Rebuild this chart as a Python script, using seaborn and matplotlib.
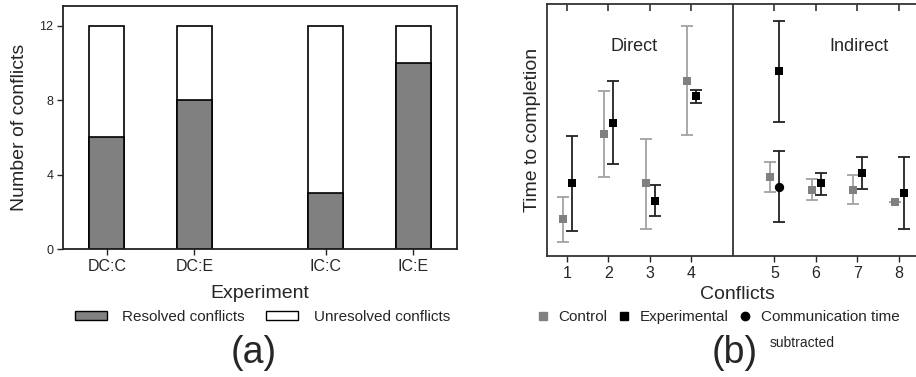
import matplotlib
matplotlib.use("Agg")
import matplotlib.pyplot as plt
import matplotlib.patches as mpatches
from matplotlib.lines import Line2D
import seaborn as sns


## Data: panel (a), conflicts resolved per experiment

experiments = ['DC:C', 'DC:E', 'IC:C', 'IC:E']
resolved = [6, 8, 3, 10]
total_conflicts = [12, 12, 12, 12]

## Data: panel (b), time to completion (arbitrary units, no scale shown)

conflicts = [1, 2, 3, 4, 5, 6, 7, 8]
control_time = [37, 122, 73, 175, 79, 66, 66, 54]
control_low = [14, 79, 27, 121, 64, 56, 52, 54]
control_high = [59, 165, 117, 230, 94, 77, 81, 54]
exp_time = [73, 133, 55, 160, 185, 73, 83, 63]
exp_low = [25, 92, 40, 153, 134, 61, 67, 27]
exp_high = [120, 175, 71, 166, 235, 83, 99, 99]
comm_conflict = [5]
comm_time = [69]
comm_low = [34]
comm_high = [105]

GRAY = '#808080'
GRAY_ERR = '#a3a3a3'
DARK = '#222222'

sns.set_style('white')
plt.rcParams['font.family'] = ['Liberation Sans', 'DejaVu Sans']

fig = plt.figure(figsize=(9.16, 3.77), dpi=100)


## Panel (a): stacked bars

ax1 = fig.add_axes([0.0688, 0.3395, 0.430, 0.6446])
# direct and indirect groups separated by a gap
bar_pos = [0, 1, 2.5, 3.5]

sns.barplot(x=bar_pos, y=total_conflicts, native_scale=True, width=0.4,
            color='white', saturation=1, edgecolor='black', linewidth=1.2,
            errorbar=None, ax=ax1)
sns.barplot(x=bar_pos, y=resolved, native_scale=True, width=0.4,
            color=GRAY, saturation=1, edgecolor='black', linewidth=1.2,
            errorbar=None, ax=ax1)

ax1.set_xlim(-0.5, 4.0)
ax1.set_ylim(0, 13.07)
ax1.set_xticks(bar_pos)
ax1.set_xticklabels(experiments, fontsize=11.5)
ax1.set_yticks([0, 4, 8, 12])
ax1.tick_params(axis='y', labelsize=9, length=4, width=1, direction='out', left=True, pad=3)
ax1.tick_params(axis='x', length=4, width=1, direction='out', bottom=True, pad=3)
ax1.set_xlabel('Experiment', fontsize=14, labelpad=8)
ax1.set_ylabel('Number of conflicts', fontsize=14, labelpad=8)
for sp in ax1.spines.values():
    sp.set_color('#222222')
    sp.set_linewidth(1.3)


## Panel (b): time to completion with error bars

ax2 = fig.add_axes([0.597, 0.321, 0.416, 0.668])
# conflicts 5-8 are shifted one slot right to leave room for the divider
xpos = [c + (1 if c > 4 else 0) for c in conflicts]
ctrl_x = [x - 0.1 for x in xpos]
exp_x = [x + 0.12 for x in xpos]
comm_x = [c + 1 + 0.12 for c in comm_conflict]

ax2.errorbar(ctrl_x, control_time,
             yerr=[[m - lo for m, lo in zip(control_time, control_low)],
                   [hi - m for m, hi in zip(control_time, control_high)]],
             fmt='none', ecolor=GRAY_ERR, elinewidth=1.3, capsize=4, capthick=1.3, zorder=2)
ax2.errorbar(exp_x, exp_time,
             yerr=[[m - lo for m, lo in zip(exp_time, exp_low)],
                   [hi - m for m, hi in zip(exp_time, exp_high)]],
             fmt='none', ecolor=DARK, elinewidth=1.3, capsize=4, capthick=1.3, zorder=2)
ax2.errorbar(comm_x, comm_time,
             yerr=[[m - lo for m, lo in zip(comm_time, comm_low)],
                   [hi - m for m, hi in zip(comm_time, comm_high)]],
             fmt='none', ecolor=DARK, elinewidth=1.3, capsize=4, capthick=1.3, zorder=2)

sns.scatterplot(x=ctrl_x, y=control_time, marker='s', s=40, color=GRAY,
                edgecolor=GRAY, linewidth=0, ax=ax2, zorder=3)
sns.scatterplot(x=exp_x, y=exp_time, marker='s', s=40, color='black',
                edgecolor='black', linewidth=0, ax=ax2, zorder=3)
sns.scatterplot(x=comm_x, y=comm_time, marker='o', s=45, color='black',
                edgecolor='black', linewidth=0, ax=ax2, zorder=3)

ax2.axvline(5, color='#333333', lw=1.3)
ax2.text(2.61, 210, 'Direct', fontsize=13, ha='center', va='center')
ax2.text(8.04, 210, 'Indirect', fontsize=13, ha='center', va='center')

ax2.set_xlim(0.52, 9.7)
ax2.set_ylim(0, 252)
ax2.set_xticks(xpos)
ax2.set_xticklabels([str(c) for c in conflicts], fontsize=11.5)
ax2.set_yticks([])
ax2.tick_params(axis='x', length=4, width=1, direction='out', bottom=True, pad=3)
ax2.set_xlabel('Conflicts', fontsize=14, labelpad=3.5)
ax2.set_ylabel('Time to completion', fontsize=14, labelpad=4)
for sp in ax2.spines.values():
    sp.set_color('#333333')
    sp.set_linewidth(1.3)

# inward ticks along the top edge
ax2t = ax2.twiny()
ax2t.set_xlim(ax2.get_xlim())
ax2t.set_xticks(xpos)
ax2t.tick_params(axis='x', top=True, bottom=False, labeltop=False, labelbottom=False,
                 direction='in', length=5, width=1.2, color='#333333')
for sp in ax2t.spines.values():
    sp.set_visible(False)


## Legends and panel letters

h_a = [mpatches.Patch(facecolor=GRAY, edgecolor='black', linewidth=1),
       mpatches.Patch(facecolor='white', edgecolor='black', linewidth=1)]
fig.legend(h_a, ['Resolved conflicts', 'Unresolved conflicts'], ncol=2,
           loc='center', bbox_to_anchor=(262.5 / 916, 1 - 317 / 377), frameon=False,
           fontsize=11, handlelength=2.1, handleheight=0.6, handletextpad=1.0,
           columnspacing=1.4, borderpad=0)

h_b = [Line2D([], [], ls='none', marker='s', color=GRAY, markersize=6),
       Line2D([], [], ls='none', marker='s', color='black', markersize=6),
       Line2D([], [], ls='none', marker='o', color='black', markersize=6)]
fig.legend(h_b, ['Control', 'Experimental', 'Communication time'], ncol=3,
           loc='center', bbox_to_anchor=(717.5 / 916, 1 - 317 / 377), frameon=False,
           fontsize=11, handlelength=1.0, handletextpad=0.5,
           columnspacing=0.6, borderpad=0)
fig.text(770 / 916, 1 - 343 / 377, 'subtracted', fontsize=10, ha='left', va='center')

fig.text(254 / 916, 1 - 353 / 377, '(a)', fontsize=27, ha='center', va='center')
fig.text(735 / 916, 1 - 353 / 377, '(b)', fontsize=27, ha='center', va='center')

fig.savefig('out.png', dpi=100)
